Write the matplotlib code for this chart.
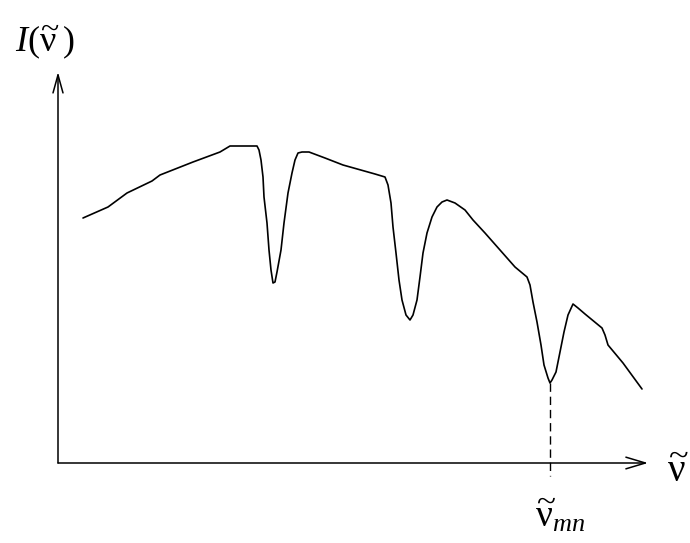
import numpy as np
import matplotlib
matplotlib.use('Agg')
import matplotlib.pyplot as plt

plt.rcParams['mathtext.fontset'] = 'custom'
plt.rcParams['mathtext.rm'] = 'Liberation Serif'
plt.rcParams['mathtext.it'] = 'Liberation Serif:italic'
plt.rcParams['font.family'] = ['Liberation Serif', 'DejaVu Serif']

# spectrum (arbitrary units)
nu = [25, 50, 69, 94, 102, 135, 162, 172, 187, 199, 201, 203, 205, 206, 209, 211,
      213, 215, 217, 219, 223, 226, 230, 234, 237, 240, 244, 251, 267, 285, 317,
      327, 330, 333, 335, 338, 341, 344, 348, 352, 355, 359, 362, 365, 369, 374,
      379, 384, 389, 397, 407, 415, 427, 457, 469, 472, 475, 479, 483, 486, 490,
      492, 494, 498, 502, 506, 510, 515, 520, 527, 544, 547, 550, 565, 584]
intensity = [245, 256, 270, 282, 288, 301, 311, 317, 317, 317, 313, 303, 286, 266,
             240, 213, 193, 180, 181, 191, 213, 240, 270, 290, 303, 310, 311, 311,
             305, 298, 289, 286, 278, 260, 236, 210, 183, 163, 148, 143, 148, 163,
             186, 210, 230, 246, 256, 261, 263, 260, 253, 243, 230, 196, 186, 178,
             161, 141, 118, 98, 85, 80, 83, 91, 111, 131, 148, 159, 155, 149, 135,
             128, 118, 100, 74]
x_max = 590
y_max = 391

fig = plt.figure(figsize=(6.9, 5.43), dpi=100)
ax = fig.add_axes([58 / 690, 80 / 543, 590 / 690, 391 / 543])
ax.set_xlim(0, x_max)
ax.set_ylim(0, y_max)
ax.axis('off')

ax.plot(nu, intensity, color='black', lw=1.2, solid_joinstyle='round',
        solid_capstyle='round')

# axes with open arrow heads
ax.annotate('', xy=(x_max, 0), xytext=(0, 0), annotation_clip=False,
            arrowprops=dict(arrowstyle='->,head_length=1.4,head_width=0.42',
                            lw=1.1, color='black', shrinkA=0, shrinkB=0))
ax.annotate('', xy=(0, y_max), xytext=(0, 0), annotation_clip=False,
            arrowprops=dict(arrowstyle='->,head_length=1.3,head_width=0.36',
                            lw=1.1, color='black', shrinkA=0, shrinkB=0))

# dashed drop line from the deepest line (the third dip)
nu_arr = np.array(nu)
int_arr = np.array(intensity)
dip = (nu_arr > 460) & (nu_arr < 530)
i_min = np.flatnonzero(dip)[np.argmin(int_arr[dip])]
nu_mn = nu[i_min]
ax.plot([nu_mn, nu_mn], [intensity[i_min], -13], color='black', lw=1.0,
        dashes=(6, 3.5), clip_on=False)

ax.text(-43, y_max + 20, r'$I\mathit{(}\widetilde{\mathrm{\nu}}\;\mathit{)}$',
        fontsize=26, ha='left', va='baseline')
ax.text(x_max + 19, -19, r'$\widetilde{\mathrm{\nu}}$', fontsize=28,
        ha='left', va='baseline')
ax.text(nu_mn - 15, -64, r'$\widetilde{\mathrm{\nu}}_{mn}$', fontsize=27,
        ha='left', va='baseline')

fig.savefig('out.png', dpi=100)
